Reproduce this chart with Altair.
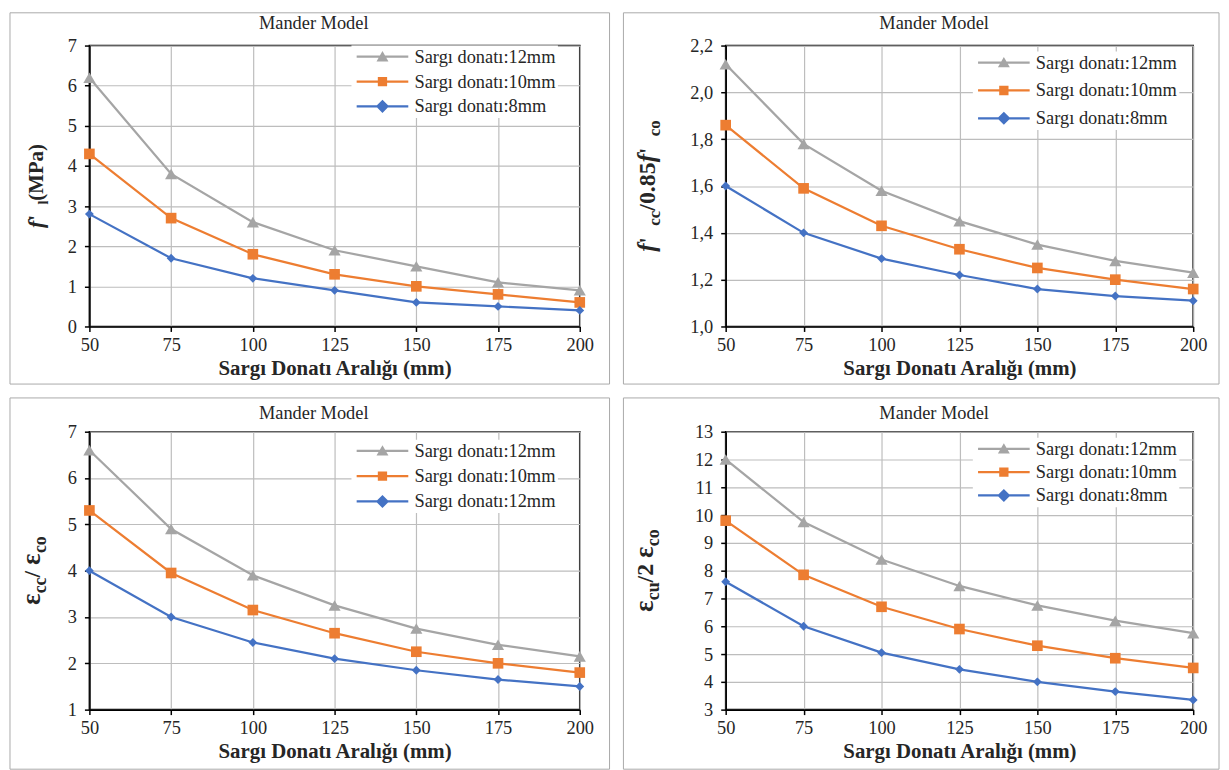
import altair as alt
import pandas as pd

# ---------------- data ----------------
spacing_mm = [50, 75, 100, 125, 150, 175, 200]
series_keys = ["s12", "s10", "s8"]
series_colors = ["#A5A5A5", "#ED7D31", "#4472C4"]
series_shapes = ["triangle-up", "square", "diamond"]
series_sizes = [150, 80, 160]

legend_labels_std = ["Sargı donatı:12mm", "Sargı donatı:10mm", "Sargı donatı:8mm"]
legend_labels_eps = ["Sargı donatı:12mm", "Sargı donatı:10mm", "Sargı donatı:12mm"]

panel_title = "Mander Model"
x_title = "Sargı Donatı Aralığı (mm)"

# panel A : f'_l (MPa)
a_12 = [6.2, 3.8, 2.6, 1.9, 1.5, 1.1, 0.9]
a_10 = [4.3, 2.7, 1.8, 1.3, 1.0, 0.8, 0.6]
a_8 = [2.8, 1.7, 1.2, 0.9, 0.6, 0.5, 0.4]
a_ticks = [0, 1, 2, 3, 4, 5, 6, 7]

# panel B : f'_cc / 0.85 f'_co
b_12 = [2.12, 1.78, 1.58, 1.45, 1.35, 1.28, 1.23]
b_10 = [1.86, 1.59, 1.43, 1.33, 1.25, 1.20, 1.16]
b_8 = [1.60, 1.40, 1.29, 1.22, 1.16, 1.13, 1.11]
b_ticks = [1.0, 1.2, 1.4, 1.6, 1.8, 2.0, 2.2]

# panel C : eps_cc / eps_co
c_12 = [6.6, 4.9, 3.9, 3.25, 2.75, 2.4, 2.15]
c_10 = [5.3, 3.95, 3.15, 2.65, 2.25, 2.0, 1.8]
c_8 = [4.0, 3.0, 2.45, 2.1, 1.85, 1.65, 1.5]
c_ticks = [1, 2, 3, 4, 5, 6, 7]

# panel D : eps_cu / 2 eps_co
d_12 = [12.0, 9.75, 8.4, 7.45, 6.75, 6.2, 5.75]
d_10 = [9.8, 7.85, 6.7, 5.9, 5.3, 4.85, 4.5]
d_8 = [7.6, 6.0, 5.05, 4.45, 4.0, 3.65, 3.35]
d_ticks = [3, 4, 5, 6, 7, 8, 9, 10, 11, 12, 13]

# ---------------- styling ----------------
SERIF = "Liberation Serif"
TXT = "#262626"
ONE = alt.Data(values=[{"k": 1}])

# approximate Times bold advance widths (1/1000 em) for title layout
W_B = {" ": 250, "'": 278, "f": 333, "l": 278, "(": 333, ")": 333, "M": 944,
       "P": 611, "a": 500, "c": 444, "o": 500, "u": 556, "/": 278, ".": 250,
       "0": 500, "2": 500, "5": 500, "8": 500, "ε": 440}


def text_w(t, size):
    return sum(W_B.get(ch, 500) for ch in t) * size / 1000.0


# legend symbol: line + marker as one custom path ([-1,1] == 12px square)
U = 6.0
L0, L1, MID, TH = -1.0, -1.0 + 52 / U, -1.0 + 26 / U, 1.15 / U
LINE = f"M{L0:.3f},{-TH:.3f}L{L1:.3f},{-TH:.3f}L{L1:.3f},{TH:.3f}L{L0:.3f},{TH:.3f}Z"
legend_paths = [
    LINE + f"M{MID-1.0:.3f},0.78L{MID:.3f},-0.95L{MID+1.0:.3f},0.78Z",
    LINE + f"M{MID-0.78:.3f},-0.78L{MID+0.78:.3f},-0.78L{MID+0.78:.3f},0.78L{MID-0.78:.3f},0.78Z",
    LINE + f"M{MID:.3f},-1.1L{MID+1.1:.3f},0L{MID:.3f},1.1L{MID-1.1:.3f},0Z",
]


def long_df(v12, v10, v8):
    rows = []
    for k, vals in zip(series_keys, [v12, v10, v8]):
        for x, y in zip(spacing_mm, vals):
            rows.append({"spacing": x, "value": y, "series": k})
    return pd.DataFrame(rows)


def label_expr(labels):
    return (f"datum.value == '{series_keys[0]}' ? '{labels[0]}' : "
            f"datum.value == '{series_keys[1]}' ? '{labels[1]}' : '{labels[2]}'")


def make_panel(vals, ticks, ylabel_expr, width, height, labels, lx, ly, row_pad,
               frame, title_xy, ysegs, ytitle_x):
    df = long_df(*vals)
    base = alt.Chart(df)
    xenc = alt.X("spacing:Q",
                 scale=alt.Scale(domain=[50, 200], nice=False, zero=False),
                 axis=alt.Axis(values=spacing_mm, title=x_title, format="d",
                               labelFlush=False, labelOverlap=False, titlePadding=4,
                               labelPadding=4))
    yaxis = dict(values=ticks, title=None, labelFlush=False, labelOverlap=False,
                 labelPadding=8)
    if ylabel_expr:
        yaxis["labelExpr"] = ylabel_expr
    yenc = alt.Y("value:Q",
                 scale=alt.Scale(domain=[ticks[0], ticks[-1]], nice=False, zero=False),
                 axis=alt.Axis(**yaxis))
    cscale = alt.Scale(domain=series_keys, range=series_colors)

    lines = base.mark_line(strokeWidth=2.25).encode(
        x=xenc, y=yenc, color=alt.Color("series:N", scale=cscale, legend=None))

    points = base.mark_point(filled=True, opacity=1).encode(
        x=xenc, y=yenc,
        color=alt.Color("series:N", scale=cscale, legend=None),
        shape=alt.Shape("series:N", scale=alt.Scale(domain=series_keys, range=series_shapes), legend=None),
        size=alt.Size("series:N", scale=alt.Scale(domain=series_keys, range=series_sizes), legend=None),
    )

    # legend-only layer (no rows drawn): line + marker symbols
    leg = dict(
        orient="none", legendX=lx, legendY=ly, title=None,
        labelExpr=label_expr(labels), labelFont=SERIF, labelFontSize=18.5,
        labelColor=TXT, labelOffset=43, labelLimit=500,
        symbolSize=144, symbolStrokeWidth=0, symbolOpacity=1, fillColor="white",
        padding=2, rowPadding=row_pad,
    )
    ghost = base.transform_filter("datum.value < -1000").mark_point(filled=True, opacity=1).encode(
        x=xenc, y=yenc,
        color=alt.Color("series:N", scale=cscale, legend=alt.Legend(**leg)),
        shape=alt.Shape("series:N", scale=alt.Scale(domain=series_keys, range=legend_paths),
                        legend=alt.Legend(**leg)),
    )

    fx0, fx1, fy0, fy1 = frame
    border = alt.Chart(ONE).mark_rect(fill="transparent", stroke="#A9A9A9", strokeWidth=1).encode(
        x=alt.value(fx0), x2=alt.value(fx1), y=alt.value(fy0), y2=alt.value(fy1))

    title = alt.Chart(ONE).mark_text(
        text=panel_title, font=SERIF, fontSize=18.5, color=TXT,
        align="center", baseline="middle").encode(
        x=alt.value(title_xy[0]), y=alt.value(title_xy[1]))

    total = sum(text_w(t, s) for t, s, _, _ in ysegs)
    y_start = height / 2 + total / 2
    off = 0.0
    ylayers = []
    for t, s, italic, shift in ysegs:
        ylayers.append(alt.Chart(ONE).mark_text(
            text=t, angle=270, align="left", baseline="alphabetic",
            dx=off, dy=shift, font=SERIF, fontSize=s, fontWeight="bold",
            fontStyle="italic" if italic else "normal", color=TXT).encode(
            x=alt.value(ytitle_x), y=alt.value(y_start)))
        off += text_w(t, s)

    return alt.layer(border, lines, points, ghost, title, *ylayers).resolve_scale(
        color="independent", shape="independent", size="independent"
    ).resolve_legend(color="independent", shape="independent").properties(
        width=width, height=height)


seg_a = [("f", 22, True, 0), (" ' ", 21, False, 0), ("l", 14, False, 5), ("(MPa)", 21, False, 0)]
seg_b = [("f", 25, True, 0), (" ' ", 23, False, 0), ("cc", 17, False, 5), ("/0.85", 24, False, 0),
         ("f", 25, True, 0), (" ' ", 23, False, 0), ("co", 17, False, 5)]
seg_c = [("ε", 27, False, 0), ("cc", 18, False, 6), (" /", 24, False, 0), ("ε", 27, False, 0),
         ("co", 18, False, 6)]
seg_d = [("ε", 27, False, 0), ("cu", 18, False, 6), (" /2", 24, False, 0), ("ε", 27, False, 0),
         ("co", 18, False, 6)]

comma_expr = "replace(format(datum.value, '.1f'), '.', ',')"

pA = make_panel([a_12, a_10, a_8], a_ticks, None, 494, 283, legend_labels_std,
                264, 0, 6, (-80, 524, -33, 341), (226, -23), seg_a, -47)
pB = make_panel([b_12, b_10, b_8], b_ticks, comma_expr, 471, 283, legend_labels_std,
                249, 6, 9, (-103, 497, -33, 341), (210, -23), seg_b, -71)
pC = make_panel([c_12, c_10, c_8], c_ticks, None, 494, 280, legend_labels_eps,
                264, 8, 6.5, (-80, 524, -34, 340), (226, -19), seg_c, -50)
pD = make_panel([d_12, d_10, d_8], d_ticks, None, 471, 280, legend_labels_std,
                249, 6, 4.5, (-103, 497, -34, 340), (210, -19), seg_d, -73)


def indep(c):
    return c.resolve_scale(color="independent", shape="independent", size="independent",
                           x="independent", y="independent").resolve_legend(
        color="independent", shape="independent")


top = indep(alt.hconcat(pA, pB, spacing=10))
bottom = indep(alt.hconcat(pC, pD, spacing=10))
chart = indep(alt.vconcat(top, bottom, spacing=10)).properties(
    padding=0, background="white"
).configure_axis(
    domainColor="#000000", domainWidth=1.6, tickColor="#000000", tickWidth=1.5, tickSize=5,
    labelFont=SERIF, labelFontSize=18.5, labelColor=TXT,
    gridColor="#BDBDBD", gridWidth=1.2, grid=True,
    titleFont=SERIF, titleFontSize=21, titleFontWeight="bold", titleColor=TXT,
).configure_view(stroke="#000000", strokeWidth=1.6)

chart.save("out.html", embed_options={"renderer": "svg", "actions": False})
